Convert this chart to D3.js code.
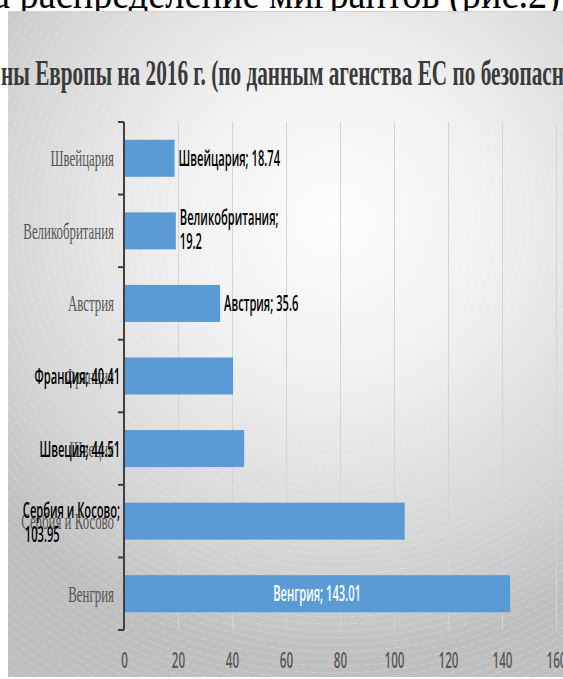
<!DOCTYPE html>
<html>
<head>
<meta charset="utf-8">
<script src="https://cdn.jsdelivr.net/npm/d3@7"></script>
<style>
  body { margin: 0; background: #fff; }
</style>
</head>
<body>
<div id="G"></div>
<script>
// data
var categories = ["Швейцария", "Великобритания", "Австрия", "Франция", "Швеция", "Сербия и Косово", "Венгрия"];
var values = [18.74, 19.2, 35.6, 40.41, 44.51, 103.95, 143.01];
var labelPlace = ["out", "out", "out", "axis", "axis", "axis", "in"];
var xTicks = [0, 20, 40, 60, 80, 100, 120, 140, 160];
var headText = "а распределение мигрантов  (рис.2)";
var titleText = "ны Европы на 2016 г.  (по данным агенства ЕС по безопасн";

var W = 563, H = 679;
var Plot = { top: 122, bottom: 630, left: 124, right: 556 };
var sansX = 0.53, serifX = 0.56;   // the picture is squeezed sideways

var svg = d3.select("#G").append("svg")
  .attr("width", W).attr("height", H);

// text of the page above the chart
svg.append("text")
  .attr("x", -7).attr("y", 8)
  .attr("textLength", 567).attr("lengthAdjust", "spacingAndGlyphs")
  .style("font-family", "'Liberation Serif', 'Times New Roman', serif")
  .style("font-size", "44px")
  .attr("fill", "#000")
  .text(headText);

// chart area background
var defs = svg.append("defs");
var grad = defs.append("radialGradient")
  .attr("id", "bg").attr("gradientUnits", "userSpaceOnUse")
  .attr("cx", 335).attr("cy", 220).attr("r", 440);
grad.append("stop").attr("offset", 0).attr("stop-color", "#fdfdfd");
grad.append("stop").attr("offset", 0.35).attr("stop-color", "#f1f1f1");
grad.append("stop").attr("offset", 0.75).attr("stop-color", "#d6d6d6");
grad.append("stop").attr("offset", 1).attr("stop-color", "#bfbfbf");
defs.append("clipPath").attr("id", "area")
  .append("rect").attr("x", 8).attr("y", 11).attr("width", W - 8).attr("height", 666);

svg.append("rect")
  .attr("x", 8).attr("y", 11).attr("width", W - 8).attr("height", 666)
  .attr("fill", "url(#bg)");
svg.append("line")
  .attr("x1", 8).attr("x2", W).attr("y1", 11.5).attr("y2", 11.5)
  .attr("stroke", "#d0d0d0");

// faint rings of the fill
svg.append("g").attr("clip-path", "url(#area)")
  .selectAll("circle").data(d3.range(40, 720, 7)).enter()
  .append("circle")
  .attr("cx", 335).attr("cy", 220).attr("r", function (d) { return d; })
  .attr("fill", "none").attr("stroke", "#fff").attr("stroke-opacity", 0.25)
  .attr("stroke-dasharray", "6,3");

// title (cut at both sides like the picture)
svg.append("text")
  .attr("x", 1).attr("y", 85)
  .attr("textLength", 563).attr("lengthAdjust", "spacingAndGlyphs")
  .style("font-family", "'Liberation Serif', 'Times New Roman', serif")
  .style("font-size", "36px").style("font-weight", "bold")
  .attr("fill", "#3a3a3a")
  .text(titleText);

// scales
var x = d3.scaleLinear().domain([0, 160]).range([Plot.left, Plot.right]);
var y = d3.scaleBand().domain(categories)
  .range([Plot.top, Plot.bottom])
  .paddingInner(0.49).paddingOuter(0.245);

// grid
var grid = svg.append("g")
  .attr("transform", "translate(0," + Plot.bottom + ")")
  .call(d3.axisBottom(x).tickValues(xTicks.slice(1)).tickSize(-(Plot.bottom - Plot.top)).tickFormat(""));
grid.select(".domain").remove();
grid.selectAll("line").attr("stroke", "#d4d4d4");

// x tick labels
var xa = svg.append("g")
  .attr("transform", "translate(0," + Plot.bottom + ")")
  .call(d3.axisBottom(x).tickValues(xTicks).tickSize(0));
xa.select(".domain").remove();
xa.selectAll("text")
  .attr("y", null).attr("dy", null)
  .attr("transform", "translate(0,38) scale(" + sansX + ",1)")
  .style("font-family", "'Open Sans', sans-serif")
  .style("font-size", "22px").style("font-weight", 600)
  .attr("fill", "#595959");

// bars
svg.append("g").selectAll("rect")
  .data(values).enter()
  .append("rect")
  .attr("x", x(0))
  .attr("y", function (d, i) { return y(categories[i]); })
  .attr("width", function (d) { return x(d) - x(0); })
  .attr("height", y.bandwidth())
  .attr("fill", "#5b9bd5");

// y axis: category labels
var ya = svg.append("g")
  .attr("transform", "translate(" + Plot.left + ",0)")
  .call(d3.axisLeft(y).tickSize(0));
ya.select(".domain").remove();
ya.selectAll("text")
  .attr("x", null).attr("dy", null)
  .attr("transform", "translate(-10,8) scale(" + serifX + ",1)")
  .style("font-family", "'Liberation Serif', 'Times New Roman', serif")
  .style("font-size", "23px")
  .attr("fill", "#555");

// y axis line and ticks between bands
var edges = categories.map(function (c) { return y(c) - (y.step() - y.bandwidth()) / 2; });
edges.push(Plot.bottom);
edges[0] = Plot.top;
svg.append("line")
  .attr("x1", Plot.left).attr("x2", Plot.left)
  .attr("y1", Plot.top).attr("y2", Plot.bottom)
  .attr("stroke", "#404040").attr("stroke-width", 2);
svg.append("g").selectAll("line").data(edges).enter()
  .append("line")
  .attr("x1", Plot.left - 6).attr("x2", Plot.left)
  .attr("y1", function (d) { return d; }).attr("y2", function (d) { return d; })
  .attr("stroke", "#404040").attr("stroke-width", 2);

// data labels
var lab = svg.append("g")
  .style("font-family", "'Open Sans', sans-serif")
  .style("font-size", "21px").style("font-weight", 600);

function addText(g, str, tx, ty, anchor, color) {
  return g.append("text")
    .attr("transform", "translate(" + tx + "," + ty + ") scale(" + sansX + ",1)")
    .attr("text-anchor", anchor)
    .attr("fill", color)
    .text(str);
}

values.forEach(function (v, i) {
  var c = categories[i];
  var cy = y(c) + y.bandwidth() / 2;
  var wrap = c.length > 12;
  var place = labelPlace[i];
  if (place === "in") {
    addText(lab, c + "; " + v, (x(0) + x(v)) / 2, cy + 7, "middle", "#fff");
  } else if (place === "out") {
    if (wrap) {
      addText(lab, c + ";", x(v) + 4, cy - 6, "start", "#000");
      addText(lab, String(v), x(v) + 4, cy + 18, "start", "#000");
    } else {
      addText(lab, c + "; " + v, x(v) + 4, cy + 8, "start", "#000");
    }
  } else {
    if (wrap) {
      var t1 = addText(lab, c + ";", 0, 0, "start", "#000");
      var w1 = t1.node().getComputedTextLength() * sansX;
      var left = Plot.left - 4 - w1;
      t1.attr("transform", "translate(" + left + "," + (cy - 3) + ") scale(" + sansX + ",1)");
      addText(lab, String(v), left + 2, cy + 21, "start", "#000");
    } else {
      addText(lab, c + "; " + v, Plot.left - 4, cy + 8, "end", "#000");
    }
  }
});
</script>
</body>
</html>
